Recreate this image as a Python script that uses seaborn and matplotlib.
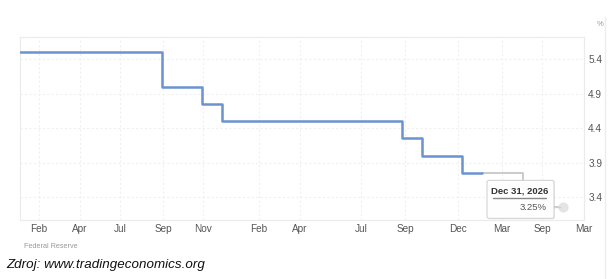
import matplotlib
matplotlib.use("Agg")
import numpy as np
import pandas as pd
import seaborn as sns
import matplotlib.pyplot as plt
from matplotlib.patches import FancyBboxPatch
from matplotlib.lines import Line2D
from matplotlib.transforms import IdentityTransform

# ---- data (x in the chart's own ordinal axis units) ----
tick_positions = [19, 60, 100, 143, 183, 239, 280, 341, 385, 438, 482, 522, 564]
tick_labels = ["Feb", "Apr", "Jul", "Sep", "Nov", "Feb", "Apr", "Jul", "Sep", "Dec", "Mar", "Sep", "Mar"]
rate_x = [0, 142, 182, 202, 382, 402, 442, 462]
rate_y = [5.5, 5.0, 4.75, 4.5, 4.25, 4.0, 3.75, 3.75]
forecast_x = [462, 503, 523, 543]
forecast_y = [3.75, 3.5, 3.25, 3.25]
y_ticks = [3.4, 3.9, 4.4, 4.9, 5.4]
tooltip_date = "Dec 31, 2026"
tooltip_value = 3.25

sns.set_theme(style="white")
plt.rcParams["font.family"] = ["Liberation Sans", "DejaVu Sans"]

fig = plt.figure(figsize=(6.15, 2.79), dpi=100)
ax = fig.add_axes([20 / 615, 59 / 279, 564 / 615, 183 / 279])

df_hist = pd.DataFrame({"x": rate_x, "y": rate_y})
df_fc = pd.DataFrame({"x": forecast_x, "y": forecast_y})
sns.lineplot(data=df_fc, x="x", y="y", ax=ax, drawstyle="steps-post", color="#cbcbcb",
             lw=1.4, estimator=None, sort=False, zorder=2)
sns.lineplot(data=df_hist, x="x", y="y", ax=ax, drawstyle="steps-post", color="#6b93d1",
             lw=1.8, estimator=None, sort=False, zorder=3)

ax.set_xlim(0, 564)
ax.set_ylim(5.4 - 161 / 69, 5.4 + 22 / 69)
ax.set_xlabel("")
ax.set_ylabel("")

ax.set_xticks(tick_positions)
ax.set_xticklabels(tick_labels)
ax.set_yticks(y_ticks)
ax.set_yticklabels([f"{v:.1f}" for v in y_ticks])
ax.yaxis.tick_right()
ax.tick_params(axis="both", length=0, labelsize=7.2, colors="#555555")
ax.tick_params(axis="x", pad=3)
ax.tick_params(axis="y", pad=3)

ax.grid(True, color="#f0f0f0", lw=0.8, linestyle=(0, (2, 2)))
for side in ["top", "left", "bottom", "right"]:
    ax.spines[side].set_visible(True)
    ax.spines[side].set_color("#ebebeb")
    ax.spines[side].set_linewidth(0.8)

# hover marker
ax.scatter([forecast_x[-1]], [tooltip_value], s=40, color="#e4e4e4", zorder=6, clip_on=False)

# tooltip (pixel coordinates relative to hovered point)
fig.canvas.draw()
px, py = ax.transData.transform((forecast_x[-1], tooltip_value))
ident = IdentityTransform()
shadow = FancyBboxPatch((px - 75, py - 12), 67, 38, boxstyle="round,pad=0,rounding_size=2",
                        transform=ident, fc="#000000", ec="none", alpha=0.06, zorder=6, clip_on=False)
ax.add_patch(shadow)
box = FancyBboxPatch((px - 76, py - 11), 67, 38, boxstyle="round,pad=0,rounding_size=2",
                     transform=ident, fc="white", ec="#d2d2d2", lw=0.8, alpha=0.97, zorder=7, clip_on=False)
ax.add_patch(box)
ax.add_line(Line2D([px - 9, px - 3], [py, py], transform=ident, color="#cfcfcf", lw=1,
                   zorder=7, clip_on=False))
ax.text(px - 43, py + 16, tooltip_date, transform=ident, ha="center", va="center",
        fontsize=6.8, fontweight="bold", color="#333333", zorder=8)
ax.add_line(Line2D([px - 70, px - 17], [py + 9, py + 9], transform=ident, color="#8a8a8a", lw=1,
                   zorder=8, clip_on=False))
ax.text(px - 16, py, f"{tooltip_value:.2f}%", transform=ident, ha="right", va="center",
        fontsize=6.8, color="#555555", zorder=8)

# texts around the chart
fig.text(597 / 615, 1 - 25 / 279, "%", fontsize=5.5, color="#999999", ha="left", va="center")
fig.text(24 / 615, 1 - 246 / 279, "Federal Reserve", fontsize=5.2, color="#999999", ha="left", va="center")
fig.text(6 / 615, 1 - 265 / 279, "Zdroj: www.tradingeconomics.org", fontsize=9.6, style="italic",
         color="#111111", ha="left", va="center")
fig.add_artist(Line2D([605 / 615, 605 / 615], [0, 1 - 17 / 279], transform=fig.transFigure,
                      color="#ededed", lw=1))

fig.savefig("out.png", dpi=100)
